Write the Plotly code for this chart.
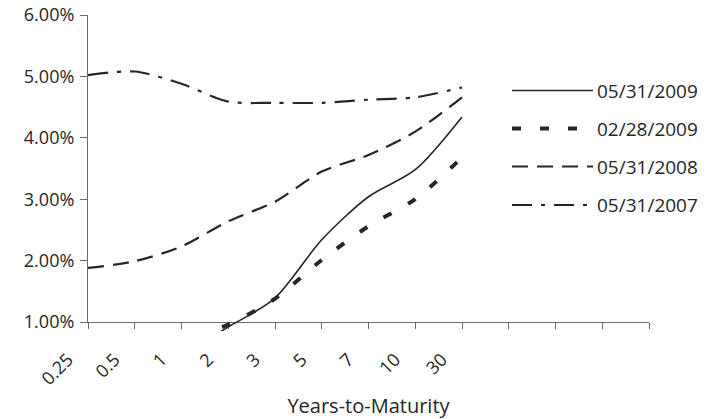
import plotly.graph_objects as go

# ---- data ----
maturities = ["0.25", "0.5", "1", "2", "3", "5", "7", "10", "30"]
series_names = ["05/31/2009", "02/28/2009", "05/31/2008", "05/31/2007"]
yields_2009_05 = [0.14, 0.30, 0.48, 0.92, 1.39, 2.34, 3.04, 3.48, 4.34]
yields_2009_02 = [0.26, 0.45, 0.70, 0.96, 1.38, 2.01, 2.56, 3.00, 3.68]
yields_2008_05 = [1.88, 1.99, 2.23, 2.64, 2.96, 3.45, 3.72, 4.10, 4.66]
yields_2007_05 = [5.02, 5.08, 4.88, 4.59, 4.57, 4.57, 4.62, 4.66, 4.82]
y_ticks = [1, 2, 3, 4, 5, 6]
y_tick_labels = [f"{v:.2f}%" for v in y_ticks]
x_title = "Years-to-Maturity"

# ---- layout geometry ----
W, H = 723, 419
ML, MR, MT = 88, 74, 15
AXIS_Y_PX = 322          # pixel row of the 1.00% axis line
CLIP_Y_PX = 331          # lines are drawn a little below the axis
MB = H - CLIP_Y_PX
plot_w = W - ML - MR
plot_h = H - MT - MB
y_min, y_max = y_ticks[0], y_ticks[-1]
px_per_unit = (AXIS_Y_PX - MT) / (y_max - y_min)
y_lo = y_min - (CLIP_Y_PX - AXIS_Y_PX) / px_per_unit
dom_lo = (CLIP_Y_PX - AXIS_Y_PX) / plot_h
n_slots = 12

FONT = "Open Sans"
INK = "#262626"
AX = "#6a6a6a"

styles = [
    dict(width=1.6, dash="solid"),
    dict(width=4.0, dash="9px,19px"),
    dict(width=2.2, dash="16px,9px"),
    dict(width=2.2, dash="20px,9px,4px,9px"),
]
all_series = [yields_2009_05, yields_2009_02, yields_2008_05, yields_2007_05]

fig = go.Figure()
# empty trace so the visible axis pair (x, y) is drawn
fig.add_trace(go.Scatter(x=[], y=[], xaxis="x", yaxis="y",
                         showlegend=False, hoverinfo="skip"))
xpos = list(range(len(maturities)))
for name, vals, st in zip(series_names, all_series, styles):
    fig.add_trace(go.Scatter(
        x=xpos, y=vals, name=name, mode="lines",
        line=dict(color=INK, width=st["width"], dash=st["dash"],
                  shape="spline", smoothing=0.8),
        xaxis="x2", yaxis="y2", showlegend=False,
    ))

# ---- custom legend (long sample lines like the original) ----
def px_x(p):
    return (p - ML) / plot_w

def px_y(p):
    return (H - MB - p) / plot_h

leg_rows = [90.5, 128.5, 166.5, 205]
for name, st, ry in zip(series_names, styles, leg_rows):
    fig.add_shape(type="line", xref="paper", yref="paper",
                  x0=px_x(512), x1=px_x(593), y0=px_y(ry), y1=px_y(ry),
                  line=dict(color=INK, width=st["width"], dash=st["dash"]))
    fig.add_annotation(xref="paper", yref="paper", x=px_x(595), y=px_y(ry),
                       text=name, showarrow=False, xanchor="left",
                       yanchor="middle",
                       font=dict(family=FONT, size=19, color=INK))

fig.update_layout(
    width=W, height=H,
    margin=dict(l=ML, r=MR, t=MT, b=MB, autoexpand=False),
    paper_bgcolor="white", plot_bgcolor="rgba(0,0,0,0)",
    showlegend=False,
    font=dict(family=FONT, color=INK),
    xaxis=dict(
        range=[0, n_slots], domain=[0, 1], anchor="y",
        tickmode="array", tickvals=list(range(n_slots + 1)),
        ticktext=maturities + [""] * (n_slots + 1 - len(maturities)),
        tickangle=-45, ticks="outside", ticklen=6, tickcolor=AX,
        showline=True, linecolor=AX, linewidth=1.2,
        showgrid=False, zeroline=False,
        tickfont=dict(family=FONT, size=18, color=INK),
        ticklabelshift=-20, ticklabelstandoff=13,
        title=dict(text=x_title, standoff=12,
                   font=dict(family=FONT, size=20, color=INK)),
        automargin=False,
    ),
    yaxis=dict(
        range=[y_min, y_max], domain=[dom_lo, 1], anchor="x",
        tickmode="array", tickvals=y_ticks, ticktext=y_tick_labels,
        ticks="outside", ticklen=7, tickcolor=AX,
        showline=True, linecolor=AX, linewidth=1.2,
        showgrid=False, zeroline=False,
        tickfont=dict(family=FONT, size=18, color=INK),
        ticklabelstandoff=2,
        automargin=False,
    ),
    xaxis2=dict(range=[0, n_slots], domain=[0, 1], anchor="y2",
                visible=False, fixedrange=True),
    yaxis2=dict(range=[y_lo, y_max], domain=[0, 1], anchor="x2",
                visible=False, fixedrange=True),
)

fig.write_html("out.html", config={"displayModeBar": False},
               post_script="document.body.style.margin='0px';")
